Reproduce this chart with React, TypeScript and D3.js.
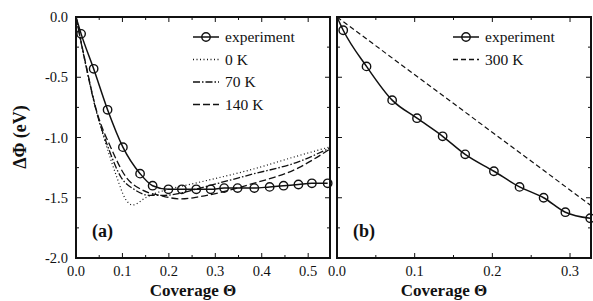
import * as d3 from "d3";

// panel (a): experiment
const thetaExpA = [0, 0.011, 0.038, 0.068, 0.101, 0.138, 0.165, 0.199, 0.228, 0.259, 0.29, 0.319, 0.348, 0.384, 0.417, 0.447, 0.479, 0.508, 0.542];
const dphiExpA = [0, -0.14, -0.43, -0.77, -1.08, -1.3, -1.4, -1.43, -1.43, -1.43, -1.43, -1.42, -1.42, -1.42, -1.41, -1.4, -1.39, -1.38, -1.38];

// panel (a): simulations
const theta0K = [0, 0.02, 0.043, 0.068, 0.088, 0.105, 0.122, 0.15, 0.173, 0.2, 0.267, 0.374, 0.48, 0.545];
const dphi0K = [0, -0.38, -0.77, -1.1, -1.33, -1.5, -1.56, -1.5, -1.46, -1.43, -1.37, -1.27, -1.15, -1.08];
const theta70K = [0, 0.02, 0.043, 0.071, 0.097, 0.125, 0.158, 0.19, 0.227, 0.267, 0.374, 0.48, 0.545];
const dphi70K = [0, -0.38, -0.77, -1.1, -1.33, -1.43, -1.48, -1.48, -1.46, -1.42, -1.31, -1.2, -1.09];
const theta140K = [0, 0.02, 0.043, 0.077, 0.108, 0.14, 0.18, 0.227, 0.267, 0.374, 0.48, 0.545];
const dphi140K = [0, -0.37, -0.76, -1.1, -1.33, -1.43, -1.48, -1.51, -1.49, -1.39, -1.25, -1.1];

// panel (b)
const thetaExpB = [0, 0.008, 0.038, 0.071, 0.103, 0.136, 0.165, 0.202, 0.235, 0.266, 0.294, 0.326];
const dphiExpB = [0, -0.11, -0.41, -0.69, -0.84, -0.99, -1.14, -1.28, -1.41, -1.5, -1.62, -1.67];
const theta300K = [0, 0.326];
const dphi300K = [0, -1.56];

const yTicks = [0, -0.5, -1.0, -1.5, -2.0];
const xTicksA = [0, 0.1, 0.2, 0.3, 0.4, 0.5];
const xTicksB = [0, 0.1, 0.2, 0.3];

const W = 593;
const H = 301;
const TOP = 17;
const BOTTOM = 258;
const serif = { fontFamily: '"Times New Roman", "Liberation Serif", "DejaVu Serif", serif' };

type Pt = [number, number];
const zip = (xs: number[], ys: number[]): Pt[] => xs.map((x, i) => [x, ys[i]]);

type Series = { pts: Pt[]; dash?: string; markers?: boolean; width: number };
type LegendItem = { label: string; dash?: string; markers?: boolean };

const Panel = ({
  x0, x1, xMax, xTicks, series, legend, legendX, tag, titleX, showYLabels,
}: {
  x0: number; x1: number; xMax: number; xTicks: number[]; series: Series[];
  legend: LegendItem[]; legendX: number; tag: string; titleX: number; showYLabels: boolean;
}) => {
  const x = d3.scaleLinear().domain([0, xMax]).range([x0, x1]);
  const y = d3.scaleLinear().domain([-2, 0]).range([BOTTOM, TOP]);
  const line = d3
    .line<Pt>()
    .x((d) => x(d[0]))
    .y((d) => y(d[1]))
    .curve(d3.curveMonotoneX);

  const minorX = d3.range(0, xMax + 1e-9, 0.05);
  const minorY = d3.range(-2, 0.0001, 0.25);

  return (
    <g>
      {series.map((s, i) => (
        <g key={i}>
          <path d={line(s.pts) || undefined} fill="none" stroke="#111" strokeWidth={s.width} strokeDasharray={s.dash} />
          {s.markers &&
            s.pts.slice(1).map((p, j) => (
              <circle key={j} cx={x(p[0])} cy={y(p[1])} r={4.2} fill="none" stroke="#111" strokeWidth={1.4} />
            ))}
        </g>
      ))}

      {/* ticks on all four sides, pointing in */}
      {minorX.map((t, i) => {
        const major = Math.abs(Math.round(t * 10) - t * 10) < 1e-6;
        const len = major ? 5 : 3;
        return (
          <g key={"tx" + i} stroke="#111" strokeWidth={1}>
            <line x1={x(t)} x2={x(t)} y1={BOTTOM} y2={BOTTOM - len} />
            <line x1={x(t)} x2={x(t)} y1={TOP} y2={TOP + len} />
          </g>
        );
      })}
      {minorY.map((t, i) => {
        const major = Math.abs(Math.round(t * 2) - t * 2) < 1e-6;
        const len = major ? 5 : 3;
        return (
          <g key={"ty" + i} stroke="#111" strokeWidth={1}>
            <line x1={x0} x2={x0 + len} y1={y(t)} y2={y(t)} />
            <line x1={x1} x2={x1 - len} y1={y(t)} y2={y(t)} />
          </g>
        );
      })}

      <rect x={x0} y={TOP} width={x1 - x0} height={BOTTOM - TOP} fill="none" stroke="#111" strokeWidth={2} />

      {xTicks.map((t) => (
        <text key={t} x={x(t)} y={276} textAnchor="middle" fontSize={14.5} style={serif} fill="#111">
          {t.toFixed(1)}
        </text>
      ))}
      {showYLabels &&
        yTicks.map((t) => (
          <text key={t} x={68} y={y(t) + 5} textAnchor="end" fontSize={14.5} style={serif} fill="#111">
            {t.toFixed(1)}
          </text>
        ))}

      <text x={titleX} y={296} textAnchor="middle" fontSize={17} fontWeight="bold" style={serif} fill="#111">
        Coverage Θ
      </text>

      <text x={x0 + 16} y={237} fontSize={18} fontWeight="bold" style={serif} fill="#111">
        {tag}
      </text>

      {legend.map((l, i) => {
        const ly = 37 + i * 22.5;
        return (
          <g key={l.label}>
            <line x1={legendX} x2={legendX + 26} y1={ly} y2={ly} stroke="#111" strokeWidth={l.markers ? 1.5 : 1.3} strokeDasharray={l.dash} />
            {l.markers && <circle cx={legendX + 13} cy={ly} r={4.2} fill="none" stroke="#111" strokeWidth={1.4} />}
            <text x={legendX + 32} y={ly + 5} fontSize={15.5} style={serif} fill="#111">
              {l.label}
            </text>
          </g>
        );
      })}
    </g>
  );
};

export default function App() {
  const seriesA: Series[] = [
    { pts: zip(theta0K, dphi0K), dash: "1,2.5", width: 1.2 },
    { pts: zip(theta70K, dphi70K), dash: "7,2,1.5,2", width: 1.3 },
    { pts: zip(theta140K, dphi140K), dash: "7,3", width: 1.3 },
    { pts: zip(thetaExpA, dphiExpA), markers: true, width: 1.5 },
  ];
  const seriesB: Series[] = [
    { pts: zip(theta300K, dphi300K), dash: "5,3", width: 1.2 },
    { pts: zip(thetaExpB, dphiExpB), markers: true, width: 1.5 },
  ];
  return (
    <svg width={W} height={H} style={{ position: "absolute", left: 0, top: 0, background: "#fff" }}>
      <Panel
        x0={76} x1={330} xMax={0.547} xTicks={xTicksA} series={seriesA}
        legend={[
          { label: "experiment", markers: true },
          { label: "0 K", dash: "1,2.5" },
          { label: "70 K", dash: "7,2,1.5,2" },
          { label: "140 K", dash: "7,3" },
        ]}
        legendX={193} tag="(a)" titleX={193} showYLabels={true}
      />
      <Panel
        x0={337} x1={591} xMax={0.327} xTicks={xTicksB} series={seriesB}
        legend={[
          { label: "experiment", markers: true },
          { label: "300 K", dash: "5,3" },
        ]}
        legendX={453} tag="(b)" titleX={444} showYLabels={false}
      />
      <text
        transform="translate(26,137) rotate(-90)"
        textAnchor="middle" fontSize={18} fontWeight="bold" style={serif} fill="#111"
      >
        ΔΦ (eV)
      </text>
    </svg>
  );
}
